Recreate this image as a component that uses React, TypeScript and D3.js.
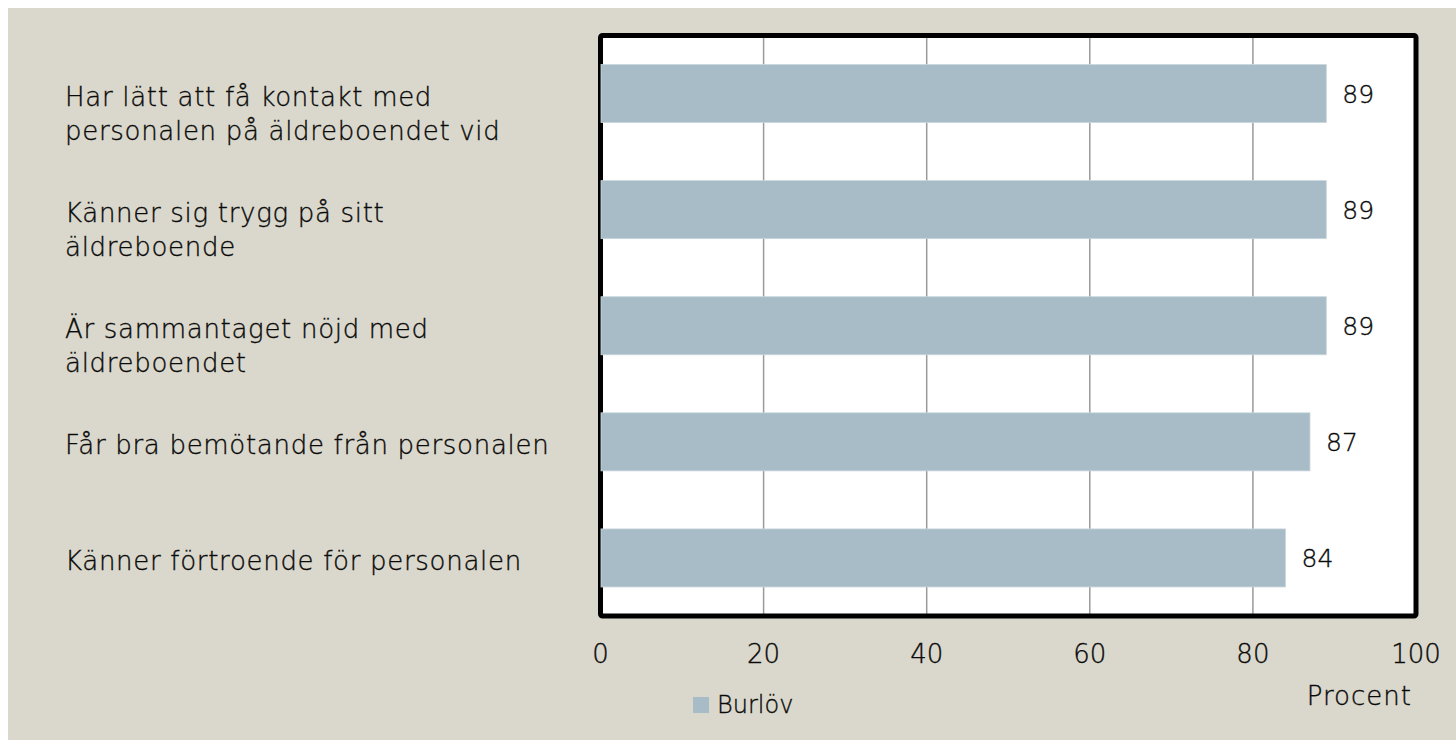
import { useRef, useEffect } from 'react';
import * as d3 from 'd3';

// data
const categories = [
    'Har lätt att få kontakt med personalen på äldreboendet vid',
    'Känner sig trygg på sitt äldreboende',
    'Är sammantaget nöjd med äldreboendet',
    'Får bra bemötande från personalen',
    'Känner förtroende för personalen',
];
const categoryLines = [
    ['Har lätt att få kontakt med', 'personalen på äldreboendet vid'],
    ['Känner sig trygg på sitt', 'äldreboende'],
    ['Är sammantaget nöjd med', 'äldreboendet'],
    ['Får bra bemötande från personalen'],
    ['Känner förtroende för personalen'],
];
const burlovValues = [89, 89, 89, 87, 84];
const xTicks = [0, 20, 40, 60, 80, 100];
const seriesName = 'Burlöv';
const axisTitle = 'Procent';

const FONT = '"DejaVu Sans", sans-serif';
const FONT_WEIGHT = 200;
const BAR_COLOR = '#a7bcc7';
const TEXT_COLOR = '#0a0a0a';

export default function App() {
    const svgRef = useRef<SVGSVGElement | null>(null);

    useEffect(() => {
        const width = 1456;
        const height = 740;
        const plot = { left: 600.5, right: 1416, top: 35.5, bottom: 616 };

        const svg = d3.select(svgRef.current)
            .attr('width', width)
            .attr('height', height)
            .html('');

        // 背景
        svg.append('rect')
            .attr('x', 8).attr('y', 8)
            .attr('width', width - 8).attr('height', height - 8)
            .attr('fill', '#dad8cc');

        const x = d3.scaleLinear().domain([0, 100]).range([plot.left, plot.right]);
        const y = d3.scaleBand<string>()
            .domain(categories)
            .range([plot.top, plot.bottom])
            .paddingInner(0.5)
            .paddingOuter(0.25);

        // plot area
        svg.append('rect')
            .attr('x', plot.left).attr('y', plot.top)
            .attr('width', plot.right - plot.left)
            .attr('height', plot.bottom - plot.top)
            .attr('fill', '#ffffff');

        // gridlines
        svg.append('g')
            .selectAll('line')
            .data(xTicks.slice(1, -1))
            .enter()
            .append('line')
            .attr('x1', d => x(d)).attr('x2', d => x(d))
            .attr('y1', plot.top).attr('y2', plot.bottom)
            .attr('stroke', '#9a9a9a')
            .attr('stroke-width', 1.5);

        // frame
        svg.append('rect')
            .attr('x', plot.left).attr('y', plot.top)
            .attr('width', plot.right - plot.left)
            .attr('height', plot.bottom - plot.top)
            .attr('fill', 'none')
            .attr('stroke', '#000')
            .attr('stroke-width', 5)
            .attr('rx', 2);

        // bars
        svg.append('g')
            .selectAll('rect')
            .data(burlovValues)
            .enter()
            .append('rect')
            .attr('x', x(0) + 0.5)
            .attr('y', (d, i) => y(categories[i])!)
            .attr('width', d => x(d) - x(0) - 0.5)
            .attr('height', y.bandwidth())
            .attr('fill', BAR_COLOR)
            .attr('stroke', '#c9d6dc')
            .attr('stroke-width', 0.8);

        const addText = (sel: any, size: number, spacing = 0) => sel
            .attr('font-family', FONT)
            .attr('font-weight', FONT_WEIGHT)
            .attr('font-size', size)
            .attr('letter-spacing', spacing)
            .attr('fill', TEXT_COLOR)
            .attr('stroke', TEXT_COLOR)
            .attr('stroke-width', 0.35);

        // value labels
        addText(svg.append('g')
            .selectAll('text')
            .data(burlovValues)
            .enter()
            .append('text')
            .attr('x', d => x(d) + 16)
            .attr('y', (d, i) => y(categories[i])! + y.bandwidth() / 2 + 9), 25)
            .text(d => d);

        // category labels
        const labels = addText(svg.append('g')
            .selectAll('text')
            .data(categoryLines)
            .enter()
            .append('text')
            .attr('x', 65)
            .attr('y', (d, i) => y(categories[i])! + y.bandwidth() / 2 + 12), 26, 0.7);
        labels.selectAll('tspan')
            .data(d => d)
            .enter()
            .append('tspan')
            .attr('x', 65)
            .attr('dy', (d, i) => (i === 0 ? 0 : 34))
            .text(d => d);

        // x tick labels
        addText(svg.append('g')
            .selectAll('text')
            .data(xTicks)
            .enter()
            .append('text')
            .attr('x', d => x(d))
            .attr('y', 663)
            .attr('text-anchor', 'middle'), 26)
            .text(d => d);

        // axis title
        addText(svg.append('text')
            .attr('x', 1412)
            .attr('y', 705)
            .attr('text-anchor', 'end'), 26, 1)
            .text(axisTitle);

        // legend
        svg.append('rect')
            .attr('x', 693).attr('y', 697)
            .attr('width', 16).attr('height', 16)
            .attr('fill', BAR_COLOR);
        addText(svg.append('text')
            .attr('x', 717)
            .attr('y', 713), 24)
            .text(seriesName);
    }, []);

    return (
        <svg ref={svgRef} style={{ position: 'fixed', left: 0, top: 0, display: 'block' }}></svg>
    );
}
